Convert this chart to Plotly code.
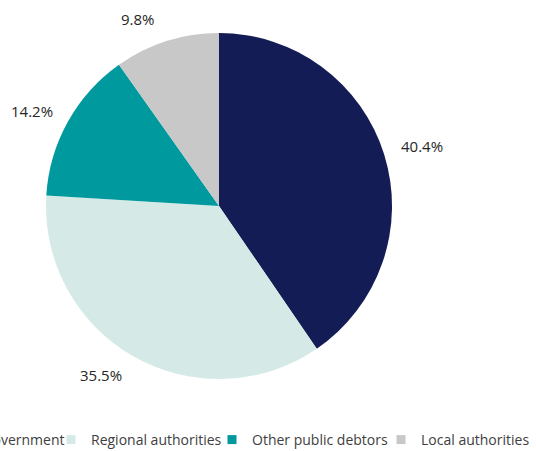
import math
import plotly.graph_objects as go

categories = ["Central government", "Regional authorities", "Other public debtors", "Local authorities"]
values = [40.4, 35.5, 14.2, 9.8]
text_labels = ["40.4%", "35.5%", "14.2%", "9.8%"]
colors = ["#141c55", "#d5eae6", "#00999e", "#c8c8c8"]

W, H = 536, 451
cx, cy, r = 219, 206, 173  # pie centre / radius in pixels (from top-left)

fig = go.Figure()
fig.add_trace(go.Pie(
    labels=categories,
    values=values,
    textinfo="none",
    sort=False,
    direction="clockwise",
    rotation=0,
    marker=dict(colors=colors, line=dict(width=0)),
    domain=dict(x=[(cx - r) / W, (cx + r) / W], y=[(H - cy - r) / H, (H - cy + r) / H]),
    showlegend=False,
    hoverinfo="label+percent",
))

# outside data labels placed along each slice's bisector
total = sum(values)
cum = 0.0
label_r = r + 15
for v, t in zip(values, text_labels):
    mid = (cum + v / 2) / total * 2 * math.pi
    cum += v
    s, c = math.sin(mid), math.cos(mid)
    xanchor = "left" if s > 0 else "right"
    if c > 0.7:
        yanchor, ys, xs = "bottom", -4, -5
    elif c < -0.7:
        yanchor, ys, xs = "top", 7, -2
    else:
        yanchor, ys, xs = "middle", 4, 0
    fig.add_annotation(
        x=(cx + label_r * s) / W, y=(H - cy + label_r * c) / H,
        xref="paper", yref="paper", text=t, showarrow=False,
        xanchor=xanchor, yanchor=yanchor, xshift=xs, yshift=ys,
        font=dict(family="Open Sans", size=15, color="#262626"),
    )

# legend entries (one legend each, laid out in a single row)
legend_text_x = [-66, 91, 252, 421]  # text start, px
legend_ids = ["legend", "legend2", "legend3", "legend4"]
leg_y = (H - 440) / H
layout_legends = {}
for name, col, lid, tx in zip(categories, colors, legend_ids, legend_text_x):
    fig.add_trace(go.Scatter(
        x=[None], y=[None], mode="markers", name=name,
        marker=dict(symbol="square", size=9, color=col),
        legend=lid, showlegend=True, hoverinfo="skip",
    ))
    layout_legends[lid] = dict(
        x=(tx - 40) / W, xanchor="left",
        y=leg_y, yanchor="middle",
        font=dict(family="Open Sans", size=14, color="#404040"),
        bgcolor="rgba(0,0,0,0)", borderwidth=0,
    )

fig.update_layout(
    width=W, height=H,
    margin=dict(l=0, r=0, t=0, b=0, autoexpand=False),
    paper_bgcolor="white",
    plot_bgcolor="white",
    xaxis=dict(visible=False),
    yaxis=dict(visible=False),
    **layout_legends,
)

fig.write_html("out.html", config={"displayModeBar": False},
               post_script="document.body.style.margin='0';")
